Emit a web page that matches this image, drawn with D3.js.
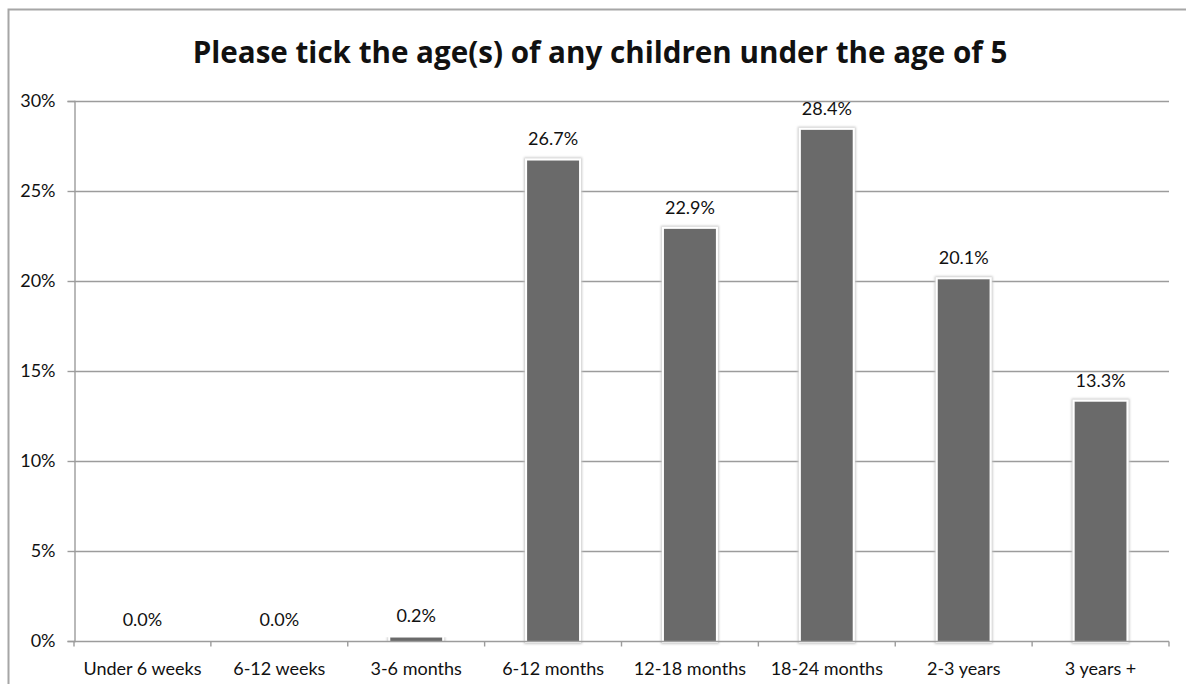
<!DOCTYPE html>
<html>
<head>
<meta charset="utf-8">
<script src="https://cdn.jsdelivr.net/npm/d3@7"></script>
<style>
  html, body { margin: 0; padding: 0; background: #fff; }
  svg { display: block; }
  text { font-family: Lato, "Open Sans", sans-serif; fill: #111; }
</style>
</head>
<body>
<svg id="chart" width="1186" height="684"></svg>
<script>
// Survey: ages of children under 5
const categories = ["Under 6 weeks", "6-12 weeks", "3-6 months", "6-12 months",
                    "12-18 months", "18-24 months", "2-3 years", "3 years +"];
const shares = [0.0, 0.0, 0.2, 26.7, 22.9, 28.4, 20.1, 13.3];
const yTicks = [0, 5, 10, 15, 20, 25, 30];
const title = "Please tick the age(s) of any children under the age of 5";

const svg = d3.select("#chart");
const W = 1186, H = 684;
const plot = { left: 74, right: 1169, top: 101, bottom: 641 };
const labelSize = 18;

// outer chart frame (runs off the right and bottom edges)
svg.append("rect")
  .attr("x", 8.5).attr("y", 9.5)
  .attr("width", W + 20).attr("height", H + 20)
  .attr("fill", "#fff").attr("stroke", "#a6a6a6").attr("stroke-width", 2);

const x = d3.scaleBand().domain(categories).range([plot.left, plot.right])
  .paddingInner(0.62).paddingOuter(0.31);
const xOuter = d3.scaleBand().domain(categories).range([plot.left, plot.right]);
const y = d3.scaleLinear().domain([0, 30]).range([plot.bottom, plot.top]);

// horizontal gridlines
svg.append("g").selectAll("line").data(yTicks.filter(d => d > 0)).join("line")
  .attr("x1", plot.left).attr("x2", plot.right)
  .attr("y1", d => Math.round(y(d)) + 0.5).attr("y2", d => Math.round(y(d)) + 0.5)
  .attr("stroke", "#9c9c9c").attr("stroke-width", 1.4);

// y axis
const yAxis = d3.axisLeft(y).tickValues(yTicks).tickSize(7).tickPadding(12)
  .tickFormat(d => d + "%");
const gy = svg.append("g").attr("transform", `translate(${plot.left + 0.5},0)`).call(yAxis);
gy.select(".domain").attr("stroke", "#9c9c9c").attr("stroke-width", 1.4);
gy.selectAll(".tick line").attr("stroke", "#9c9c9c").attr("stroke-width", 1.4);
gy.selectAll(".tick text").attr("font-size", labelSize).attr("fill", "#111")
  .style("font-family", "Lato, 'Open Sans', sans-serif");

// bar shadow filter
const defs = svg.append("defs");
const f = defs.append("filter").attr("id", "glow")
  .attr("x", "-30%").attr("y", "-10%").attr("width", "160%").attr("height", "120%");
f.append("feMorphology").attr("in", "SourceAlpha").attr("operator", "dilate")
  .attr("radius", 3).attr("result", "grown");
f.append("feGaussianBlur").attr("in", "grown").attr("stdDeviation", 1).attr("result", "blur");
f.append("feFlood").attr("flood-color", "#c8c8c8").attr("result", "col");
f.append("feComposite").attr("in", "col").attr("in2", "blur").attr("operator", "in").attr("result", "shadow");
f.append("feMorphology").attr("in", "SourceAlpha").attr("operator", "dilate")
  .attr("radius", 2).attr("result", "white0");
f.append("feFlood").attr("flood-color", "#ffffff").attr("result", "wcol");
f.append("feComposite").attr("in", "wcol").attr("in2", "white0").attr("operator", "in").attr("result", "white");
const fm = f.append("feMerge");
fm.append("feMergeNode").attr("in", "shadow");
fm.append("feMergeNode").attr("in", "white");
fm.append("feMergeNode").attr("in", "SourceGraphic");

// bars
svg.append("g").selectAll("rect").data(shares).join("rect")
  .attr("x", (d, i) => x(categories[i]))
  .attr("width", x.bandwidth())
  .attr("y", d => y(d))
  .attr("height", d => y(0) - y(d))
  .attr("fill", "#6b6b6b")
  .attr("filter", d => d > 0 ? "url(#glow)" : null);

// x axis
const gx = svg.append("g").attr("transform", `translate(0,${plot.bottom + 0.5})`);
gx.append("line").attr("x1", plot.left).attr("x2", plot.right)
  .attr("stroke", "#9c9c9c").attr("stroke-width", 1.4);
const bounds = categories.map(c => xOuter(c)).concat([plot.right]);
gx.selectAll("line.tk").data(bounds).join("line").attr("class", "tk")
  .attr("x1", d => d).attr("x2", d => d).attr("y1", 0).attr("y2", 5)
  .attr("stroke", "#9c9c9c").attr("stroke-width", 1.4);
gx.selectAll("text").data(categories).join("text")
  .attr("x", c => xOuter(c) + xOuter.bandwidth() / 2)
  .attr("y", 33).attr("text-anchor", "middle").attr("font-size", labelSize)
  .text(c => c);

// value labels
svg.append("g").selectAll("text").data(shares).join("text")
  .attr("x", (d, i) => x(categories[i]) + x.bandwidth() / 2)
  .attr("y", d => y(d) - 15)
  .attr("text-anchor", "middle").attr("font-size", labelSize)
  .text(d => d.toFixed(1) + "%");

// title
svg.append("text").attr("x", 600).attr("y", 63).attr("text-anchor", "middle")
  .attr("font-size", 29.6).attr("font-weight", "bold")
  .style("font-family", "'Open Sans', Lato, sans-serif")
  .text(title);
</script>
</body>
</html>
